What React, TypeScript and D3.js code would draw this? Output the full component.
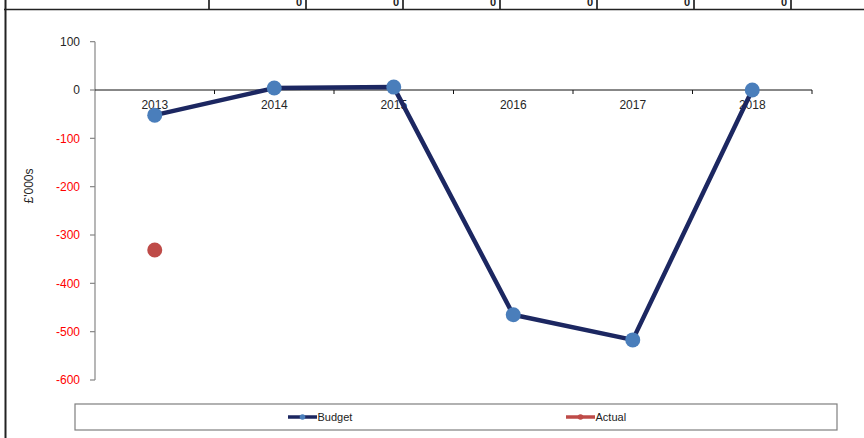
import React from 'react';
import * as d3 from 'd3';

const categories = ['2013', '2014', '2015', '2016', '2017', '2018'];
const budget: (number | null)[] = [-52, 4, 6, -465, -517, 0];
const actual: (number | null)[] = [-331, null, null, null, null, null];
const yTicks = [100, 0, -100, -200, -300, -400, -500, -600];
const tableValues = ['0', '0', '0', '0', '0', '0', '0'];
const seriesNames = ['Budget', 'Actual'];

const W = 864;
const H = 438;
const FONT = 'Arial, "Liberation Sans", sans-serif';
const NAVY = '#1C2761';
const BLUE = '#4A7EBB';
const RED = '#BE4B48';

export default function App() {
  const x = d3.scaleBand<string>().domain(categories).range([95, 812]);
  const y = d3.scaleLinear().domain([-600, 100]).range([380, 41.67]);
  const col = d3.scaleLinear().domain([0, 1]).range([209, 306]);

  const line = d3
    .line<number | null>()
    .defined((d) => d != null)
    .x((_, i) => (x(categories[i]) as number) + x.bandwidth() / 2)
    .y((d) => y(d as number));

  const cx = (i: number) => (x(categories[i]) as number) + x.bandwidth() / 2;
  const bounds = categories.map((c) => x(c) as number).concat([812]);

  return (
    <svg
      width={W}
      height={H}
      style={{ position: 'absolute', left: 0, top: 0, display: 'block', background: '#fff' }}
    >
      {/* table fragment at the top */}
      <line x1={4} x2={W} y1={9.5} y2={9.5} stroke="#222" strokeWidth={1.3} />
      <line x1={5.5} x2={5.5} y1={0} y2={H} stroke="#222" strokeWidth={2} />
      {tableValues.map((v, i) => (
        <g key={i}>
          <line x1={col(i)} x2={col(i)} y1={0} y2={9.5} stroke="#222" strokeWidth={1.7} />
          <text
            x={col(i + 1) - 4}
            y={5.5}
            textAnchor="end"
            fontFamily={FONT}
            fontSize={11}
            fontWeight="bold"
            fill="#222"
          >
            {v}
          </text>
        </g>
      ))}

      {/* y axis */}
      <line x1={95} x2={95} y1={y(100)} y2={y(-600)} stroke="#868686" strokeWidth={1.2} />
      {yTicks.map((t) => (
        <g key={t}>
          <line x1={90} x2={95} y1={y(t)} y2={y(t)} stroke="#868686" strokeWidth={1.2} />
          <text
            x={80}
            y={y(t)}
            dy="0.35em"
            textAnchor="end"
            fontFamily={FONT}
            fontSize={12}
            fill={t < 0 ? '#FF0000' : '#262626'}
          >
            {t}
          </text>
        </g>
      ))}
      <text
        transform={`translate(29,${186}) rotate(-90)`}
        textAnchor="middle"
        dy="0.35em"
        fontFamily={FONT}
        fontSize={12}
        fill="#262626"
      >
        £'000s
      </text>

      {/* x axis at zero */}
      <line x1={95} x2={812} y1={y(0)} y2={y(0)} stroke="#111" strokeWidth={1} />
      {bounds.slice(1).map((b, i) => (
        <line key={i} x1={b} x2={b} y1={y(0)} y2={y(0) + 4} stroke="#111" strokeWidth={1} />
      ))}
      {categories.map((c, i) => (
        <text
          key={c}
          x={cx(i)}
          y={105}
          dy="0.35em"
          textAnchor="middle"
          fontFamily={FONT}
          fontSize={12}
          fill="#262626"
        >
          {c}
        </text>
      ))}

      {/* budget series */}
      <path d={line(budget) || ''} fill="none" stroke={NAVY} strokeWidth={4.5} strokeLinejoin="round" />
      {budget.map((v, i) =>
        v == null ? null : <circle key={i} cx={cx(i)} cy={y(v)} r={7.5} fill={BLUE} />
      )}

      {/* actual series */}
      <path d={line(actual) || ''} fill="none" stroke={RED} strokeWidth={4.5} />
      {actual.map((v, i) =>
        v == null ? null : <circle key={i} cx={cx(i)} cy={y(v)} r={7.5} fill={RED} />
      )}

      {/* legend */}
      <rect x={75} y={404} width={762} height={26} fill="#fff" stroke="#7f7f7f" strokeWidth={1.2} />
      {seriesNames.map((name, i) => {
        const lx = i === 0 ? 288 : 566;
        const lineColor = i === 0 ? NAVY : RED;
        const dot = i === 0 ? BLUE : RED;
        return (
          <g key={name}>
            <line x1={lx} x2={lx + 29} y1={417} y2={417} stroke={lineColor} strokeWidth={3.5} />
            <circle cx={lx + 14.5} cy={417} r={2.8} fill={dot} />
            <text
              x={lx + 29.5}
              y={417}
              dy="0.35em"
              fontFamily={FONT}
              fontSize={11}
              fill="#222"
            >
              {name}
            </text>
          </g>
        );
      })}
    </svg>
  );
}
